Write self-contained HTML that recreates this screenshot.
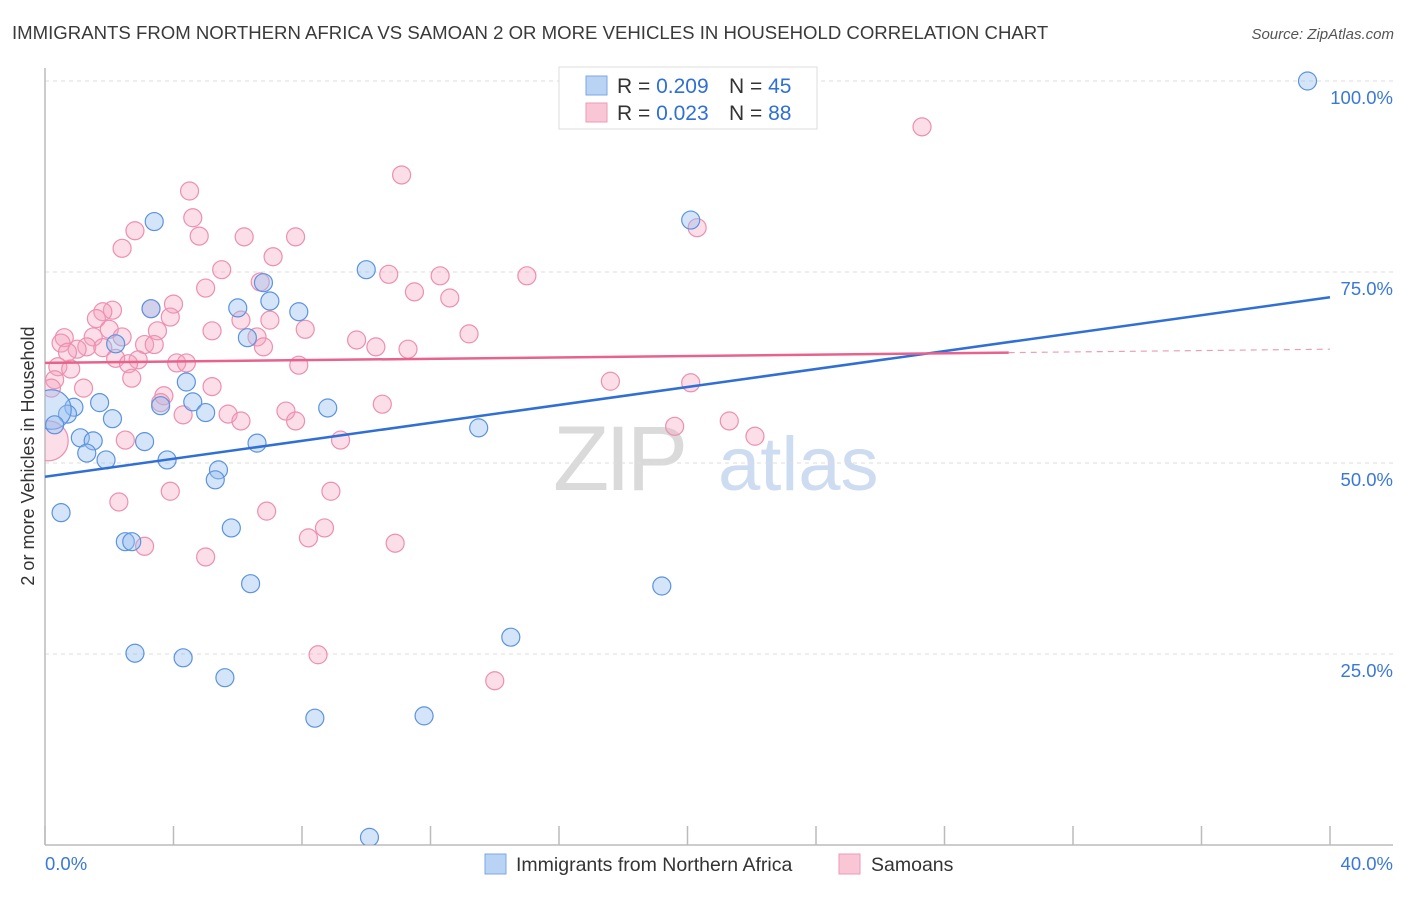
<!DOCTYPE html>
<html><head><meta charset="utf-8"><style>
body{margin:0;background:#fff;font-family:"Liberation Sans",sans-serif;}
svg text{font-family:"Liberation Sans",sans-serif;}
</style></head><body>
<svg id="chart" width="1406" height="892" xmlns="http://www.w3.org/2000/svg">
<text x="12" y="39" font-size="18.6" fill="#3a3a3a">IMMIGRANTS FROM NORTHERN AFRICA VS SAMOAN 2 OR MORE VEHICLES IN HOUSEHOLD CORRELATION CHART</text>
<text x="1394" y="39" font-size="15" fill="#555" font-style="italic" text-anchor="end">Source: ZipAtlas.com</text>
<g>
<text x="553" y="490" font-size="92" fill="#dadada" font-family="Liberation Serif" letter-spacing="-4">ZIP</text>
<text x="718" y="490" font-size="76" fill="#cddcf1">atlas</text>
</g>
<g id="grid"></g>
<g id="axes"></g>
<g id="marks"></g>
<g id="trends"></g>
<text transform="translate(34,456) rotate(-90)" font-size="18" fill="#333" text-anchor="middle">2 or more Vehicles in Household</text>
<g>
<rect x="559" y="67" width="258" height="62" fill="#fff" stroke="#ddd"/>
<rect x="586" y="76" width="21" height="19" fill="#b9d3f5" stroke="#7aa7e6"/>
<rect x="586" y="103" width="21" height="19" fill="#f9c6d6" stroke="#ef9ab5"/>
<text x="617" y="93" font-size="21" fill="#333">R = <tspan fill="#2f6fd6">0.209</tspan><tspan x="729">N = </tspan><tspan fill="#2f6fd6">45</tspan></text>
<text x="617" y="120" font-size="21" fill="#333">R = <tspan fill="#2f6fd6">0.023</tspan><tspan x="729">N = </tspan><tspan fill="#2f6fd6">88</tspan></text>
</g>
<g>
<rect x="485" y="854" width="21" height="20" fill="#b9d3f5" stroke="#7aa7e6"/>
<text x="516" y="871" font-size="19.5" fill="#333">Immigrants from Northern Africa</text>
<rect x="839" y="854" width="21" height="20" fill="#f9c6d6" stroke="#ef9ab5"/>
<text x="871" y="871" font-size="19.5" fill="#333">Samoans</text>
</g>
</svg>
<script>
const blueX=[39.3,3.4,20.1,10.0,6.8,3.3,6.0,7.0,7.9,6.3,2.2,4.4,3.6,4.6,5.0,8.8,1.7,2.1,0.9,0.7,0.2,0.3,1.1,1.5,1.3,1.9,3.1,3.8,6.6,5.4,5.3,13.5,0.5,2.5,2.7,5.8,6.4,2.8,4.3,5.6,14.5,19.2,8.4,11.8,10.1];
const blueY=[100,81.6,81.8,75.3,73.6,70.2,70.3,71.2,69.8,66.4,65.6,60.6,57.5,58.0,56.6,57.2,57.9,55.8,57.3,56.4,57.0,55.0,53.3,52.9,51.3,50.4,52.8,50.4,52.6,49.1,47.8,54.6,43.5,39.7,39.7,41.5,34.2,25.1,24.5,21.9,27.2,33.9,16.6,16.9,1.0];
const blueSize=[1,1,1,1,1,1,1,1,1,1,1,1,1,1,1,1,1,1,1,1,2.2,1,1,1,1,1,1,1,1,1,1,1,1,1,1,1,1,1,1,1,1,1,1,1,1];
const pinkX=[27.3,11.1,4.5,4.6,2.8,4.8,2.4,6.2,7.8,20.3,7.1,5.5,10.7,12.3,15.0,5.0,6.7,11.5,12.6,4.0,2.1,1.8,3.3,3.9,1.6,6.1,7.0,2.0,3.5,5.2,8.1,13.2,0.6,1.5,2.4,9.7,6.6,0.5,1.3,1.0,1.8,3.1,3.4,6.8,10.3,11.3,0.7,2.2,2.9,4.1,4.4,7.9,0.4,0.8,2.6,2.7,0.3,0.2,1.2,5.2,17.6,20.1,3.7,3.6,10.5,7.5,5.7,4.3,6.1,7.8,21.3,19.6,22.1,2.5,9.2,0.1,3.9,8.9,2.3,6.9,8.7,8.2,10.9,3.1,5.0,8.5,14.0];
const pinkY=[94.0,87.7,85.6,82.1,80.4,79.7,78.1,79.6,79.6,80.8,77.0,75.3,74.7,74.5,74.5,72.9,73.7,72.4,71.6,70.8,70.0,69.8,70.2,69.1,68.9,68.7,68.7,67.5,67.3,67.3,67.5,66.9,66.4,66.5,66.5,66.1,66.5,65.7,65.2,64.9,65.1,65.5,65.5,65.2,65.2,64.9,64.5,63.7,63.5,63.1,63.1,62.8,62.6,62.3,63.0,61.1,60.9,59.8,59.8,60.0,60.7,60.5,58.8,57.9,57.7,56.8,56.4,56.3,55.5,55.5,55.5,54.8,53.5,53.0,53.0,52.9,46.3,46.3,44.9,43.7,41.5,40.2,39.5,39.1,37.7,24.9,21.5];
const blueTrend=[48.2,71.7];
const pinkTrend=[63.1,64.9];
const pinkSolidEnd=30;
const yTicks=[100,75,50,25];
const yTickLabels=["100.0%","75.0%","50.0%","25.0%"];
const xTicks=[0,4,8,12,16,20,24,28,32,36,40];

const NS="http://www.w3.org/2000/svg";
const X0=45,X1=1330,Y0=845,Y1=81;
const sx=v=>X0+(v/40)*(X1-X0);
const sy=v=>Y0-(v/100)*(Y0-Y1);
function mk(tag,attrs,parent){const e=document.createElementNS(NS,tag);for(const k in attrs)e.setAttribute(k,attrs[k]);document.getElementById(parent).appendChild(e);return e;}

yTicks.forEach((t,i)=>{
  const g=mk('line',{x1:X0,x2:1393,y1:sy(t),y2:sy(t),stroke:'#ddd','stroke-dasharray':'4,4'},'grid');
  
  
  const l=mk('text',{x:1393,y:sy(t)+23,'font-size':18.5,fill:'#3a78d8','text-anchor':'end'},'grid');
  l.textContent=yTickLabels[i];
  
  
});
const ax=mk('line',{x1:X0,x2:1393,y1:Y0,y2:Y0,stroke:'#bbb','stroke-width':1.5},'axes');


const ay=mk('line',{x1:X0,x2:X0,y1:68,y2:Y0,stroke:'#bbb','stroke-width':1.5},'axes');


xTicks.forEach(t=>{
  const k=mk('line',{x1:sx(t),x2:sx(t),y1:826,y2:Y0,stroke:'#bbb','stroke-width':1.5},'axes');
  
  
});
const xl0=mk('text',{x:45,y:870,'font-size':18.5,fill:'#3a78d8'},'axes');xl0.textContent='0.0%';


const xl1=mk('text',{x:1393,y:870,'font-size':18.5,fill:'#3a78d8','text-anchor':'end'},'axes');xl1.textContent='40.0%';



mk('clipPath',{id:'plotclip'},'marks');
const cr=document.createElementNS(NS,'rect');
document.getElementById('plotclip').appendChild(cr);
cr.setAttribute('x',X0);cr.setAttribute('y',0);cr.setAttribute('width',1400);cr.setAttribute('height',Y0);
document.getElementById('marks').setAttribute('clip-path','url(#plotclip)');

pinkX.forEach((x,i)=>{
  const r=(i===75)?20:9;
  const c=mk('circle',{cx:sx(x),cy:sy(pinkY[i]),r:r,fill:'rgba(244,160,188,0.35)',stroke:'#ee8fae','stroke-width':1.2},'marks');
  
  
});
blueX.forEach((x,i)=>{
  const c=mk('circle',{cx:sx(x),cy:sy(blueY[i]),r:9*blueSize[i],fill:'rgba(150,190,240,0.4)',stroke:'#5b93e0','stroke-width':1.2},'marks');
  
  
});
const bt=mk('line',{x1:sx(0),y1:sy(blueTrend[0]),x2:sx(40),y2:sy(blueTrend[1]),stroke:'#2f6fd6','stroke-width':2.5},'trends');


const pAt=x=>pinkTrend[0]+(pinkTrend[1]-pinkTrend[0])*x/40;
const pt=mk('line',{x1:sx(0),y1:sy(pAt(0)),x2:sx(pinkSolidEnd),y2:sy(pAt(pinkSolidEnd)),stroke:'#e8628c','stroke-width':2.5},'trends');


const pd=mk('line',{x1:sx(pinkSolidEnd),y1:sy(pAt(pinkSolidEnd)),x2:sx(40),y2:sy(pAt(40)),stroke:'#e8a0b6','stroke-width':1.2,'stroke-dasharray':'6,5'},'trends');


</script>
</body></html>
